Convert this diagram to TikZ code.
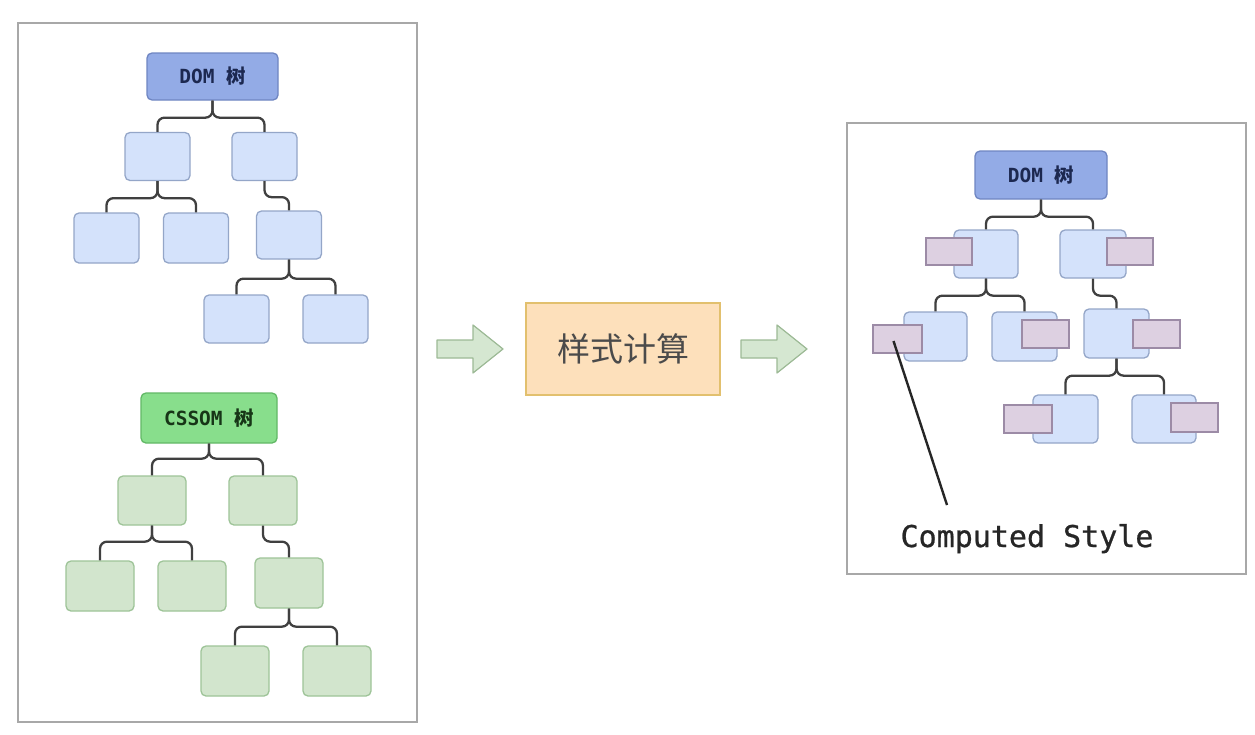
\documentclass[tikz,border=0pt]{standalone}
\usepackage{fontspec}
\newfontfamily\monof{DejaVu Sans Mono}
\newfontfamily\monofm[FakeBold=0.8]{DejaVu Sans Mono}
\newfontfamily\cjk{Noto Sans CJK SC}
\definecolor{linec}{HTML}{404040}
\definecolor{panelc}{HTML}{A8A8A8}
\definecolor{rootbf}{HTML}{93ABE6}
\definecolor{rootbd}{HTML}{6F86C2}
\definecolor{rootbt}{HTML}{1C2850}
\definecolor{bluef}{HTML}{D4E2FB}
\definecolor{blued}{HTML}{94A6C8}
\definecolor{rootgf}{HTML}{88DE8C}
\definecolor{rootgd}{HTML}{62B866}
\definecolor{rootgt}{HTML}{173517}
\definecolor{greenf}{HTML}{D2E5CD}
\definecolor{greend}{HTML}{9EC498}
\definecolor{pinkf}{HTML}{DDD0E1}
\definecolor{pinkd}{HTML}{9C8BA6}
\definecolor{arrowf}{HTML}{D5E7D1}
\definecolor{arrowd}{HTML}{9DBA96}
\definecolor{calcf}{HTML}{FDE0BB}
\definecolor{calcd}{HTML}{E2C06E}
\definecolor{calct}{HTML}{4B4B4B}
\tikzset{
  panel/.style={draw=panelc, line width=1.5pt},
  tbox/.style={rounded corners=5pt, line width=1.3pt, minimum width=65pt, minimum height=48pt, inner sep=0pt},
  bluebox/.style={tbox, draw=blued, fill=bluef},
  greenbox/.style={tbox, draw=greend, fill=greenf, minimum width=68pt, minimum height=50pt},
  pinkbox/.style={draw=pinkd, fill=pinkf, line width=1.3pt, minimum width=47pt, minimum height=28pt, inner sep=0pt},
  domroot/.style={tbox, draw=rootbd, fill=rootbf, text=rootbt, minimum width=131pt, minimum height=47pt, font=\monof\bfseries\fontsize{19.5}{19.5}\selectfont},
  cssroot/.style={tbox, draw=rootgd, fill=rootgf, text=rootgt, minimum width=136pt, minimum height=50pt, font=\monof\bfseries\fontsize{19.5}{19.5}\selectfont},
  conn/.style={draw=linec, line width=2.3pt, rounded corners=7pt},
  blockarrow/.style={draw=arrowd, fill=arrowf, line width=1.2pt, line join=round},
}
\begin{document}
\begin{tikzpicture}[x=1pt,y=-1pt]
\useasboundingbox (0,0) rectangle (1255,734);
\fill[white] (0,0) rectangle (1255,734);

% ---------- left panel ----------
\node[panel, minimum width=399pt, minimum height=699pt, inner sep=0pt] (leftpanel) at (217.5,372.5) {};

% DOM tree
\node[domroot] (droot) at (212.5,76.5) {DOM {\cjk 树}};
\node[bluebox] (d1) at (157.5,156.5) {};
\node[bluebox] (d2) at (264.5,156.5) {};
\node[bluebox, minimum height=50pt] (d3) at (106.5,238) {};
\node[bluebox, minimum height=50pt] (d4) at (196,238) {};
\node[bluebox] (d5) at (289,235) {};
\node[bluebox] (d6) at (236.5,319) {};
\node[bluebox] (d7) at (335.5,319) {};
\draw[conn] (droot.south) -- ++(0,17) -| (d1.north);
\draw[conn] (droot.south) -- ++(0,17) -| (d2.north);
\draw[conn] (d1.south) -- ++(0,17) -| (d3.north);
\draw[conn] (d1.south) -- ++(0,17) -| (d4.north);
\draw[conn] (d2.south) -- ++(0,16) -| (d5.north);
\draw[conn] (d5.south) -- ++(0,19) -| (d6.north);
\draw[conn] (d5.south) -- ++(0,19) -| (d7.north);

% CSSOM tree
\node[cssroot] (croot) at (209,418) {CSSOM {\cjk 树}};
\node[greenbox, minimum height=49pt] (c1) at (152,500.5) {};
\node[greenbox, minimum height=49pt] (c2) at (263,500.5) {};
\node[greenbox] (c3) at (100,586) {};
\node[greenbox] (c4) at (192,586) {};
\node[greenbox] (c5) at (289,583) {};
\node[greenbox] (c6) at (235,671) {};
\node[greenbox] (c7) at (337,671) {};
\draw[conn] (croot.south) -- ++(0,15) -| (c1.north);
\draw[conn] (croot.south) -- ++(0,15) -| (c2.north);
\draw[conn] (c1.south) -- ++(0,16) -| (c3.north);
\draw[conn] (c1.south) -- ++(0,16) -| (c4.north);
\draw[conn] (c2.south) -- ++(0,16) -| (c5.north);
\draw[conn] (c5.south) -- ++(0,18) -| (c6.north);
\draw[conn] (c5.south) -- ++(0,18) -| (c7.north);

% ---------- middle ----------
\draw[blockarrow] (437,340) -- (473,340) -- (473,325) -- (503,349) -- (473,373) -- (473,358) -- (437,358) -- cycle;
\node[draw=calcd, fill=calcf, line width=1.3pt, minimum width=194pt, minimum height=92pt, inner sep=0pt, text=calct, font=\cjk\fontsize{33}{33}\selectfont] (calc) at (623,349) {样式计算};
\draw[blockarrow] (741,340) -- (777,340) -- (777,325) -- (807,349) -- (777,373) -- (777,358) -- (741,358) -- cycle;

% ---------- right panel ----------
\node[panel, minimum width=399pt, minimum height=451pt, inner sep=0pt] (rightpanel) at (1046.5,348.5) {};

\node[domroot, minimum width=132pt, minimum height=48pt] (rroot) at (1041,175) {DOM {\cjk 树}};
\node[bluebox, minimum width=64pt] (r1) at (986,254) {};
\node[bluebox, minimum width=66pt] (r2) at (1093,254) {};
\node[bluebox, minimum width=63pt, minimum height=49pt] (r3) at (935.5,336.5) {};
\node[bluebox, minimum height=49pt] (r4) at (1024.5,336.5) {};
\node[bluebox, minimum height=49pt] (r5) at (1116.5,333.5) {};
\node[bluebox] (r6) at (1065.5,419) {};
\node[bluebox, minimum width=64pt] (r7) at (1164,419) {};
\draw[conn] (rroot.south) -- ++(0,17) -| (r1.north);
\draw[conn] (rroot.south) -- ++(0,17) -| (r2.north);
\draw[conn] (r1.south) -- ++(0,17) -| (r3.north);
\draw[conn] (r1.south) -- ++(0,17) -| (r4.north);
\draw[conn] (r2.south) -- ++(0,17) -| (r5.north);
\draw[conn] (r5.south) -- ++(0,17) -| (r6.north);
\draw[conn] (r5.south) -- ++(0,17) -| (r7.north);

\node[pinkbox, minimum width=46pt, minimum height=27pt] (p1) at (949,251.5) {};
\node[pinkbox, minimum width=46pt, minimum height=27pt] (p2) at (1130,251.5) {};
\node[pinkbox, minimum width=49pt] (p3) at (897.5,339) {};
\node[pinkbox] (p4) at (1045.5,334) {};
\node[pinkbox] (p5) at (1156.5,334) {};
\node[pinkbox, minimum width=48pt] (p6) at (1028,419) {};
\node[pinkbox, minimum height=29pt] (p7) at (1194.5,417.5) {};

\coordinate (ptr) at (947,505);
\draw[line width=2.4pt, black!85] (p3.center) ++(-4,2) -- (ptr);
\node[anchor=base, inner sep=0pt, font=\monofm\fontsize{30}{30}\selectfont, text=black!85] (cs) at (1027,547) {Computed Style};
\end{tikzpicture}
\end{document}
